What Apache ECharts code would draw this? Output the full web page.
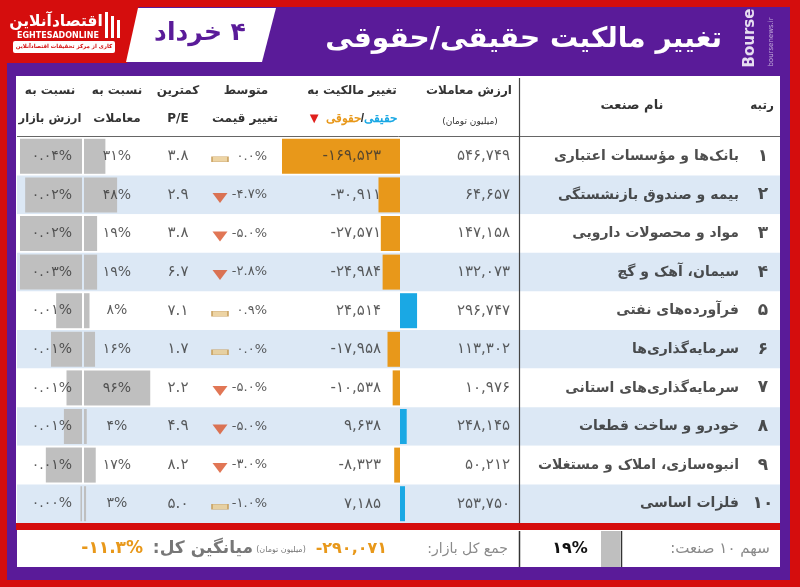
<!DOCTYPE html>
<html>
<head>
<meta charset="utf-8">
<script src="https://cdn.jsdelivr.net/npm/echarts@6/dist/echarts.min.js"></script>
<style>
html, body { margin: 0; padding: 0; background: #d50d0d; }
#chart { width: 800px; height: 587px; }
</style>
</head>
<body>
<div id="chart"></div>
<script>
// table data, one entry per industry (rank order)
var names = ['بانک‌ها و مؤسسات اعتباری', 'بیمه و صندوق بازنشستگی', 'مواد و محصولات دارویی', 'سیمان، آهک و گچ', 'فرآورده‌های نفتی',
    'سرمایه‌گذاری‌ها', 'سرمایه‌گذاری‌های استانی', 'خودرو و ساخت قطعات', 'انبوه‌سازی، املاک و مستغلات', 'فلزات اساسی'];
var tradeValue = [546749, 64657, 147158, 132073, 296747, 113302, 10976, 248145, 50212, 253750];
var ownershipChange = [-169523, -30911, -27571, -24984, 24514, -17958, -10538, 9638, -8323, 7185];
var avgPriceChange = [0.0, -4.7, -5.0, -2.8, 0.9, 0.0, -5.0, -5.0, -3.0, -1.0];
var minPE = [3.8, 2.9, 3.8, 6.7, 7.1, 1.7, 2.2, 4.9, 8.2, 5.0];
var tradeShare = [31, 48, 19, 19, 8, 16, 96, 4, 17, 3];
var marketShare = [0.042, 0.022, 0.024, 0.028, 0.010, 0.012, 0.006, 0.007, 0.014, 0.0006];

// footer values
var marketTotal = [-290071];
var marketAvg = [-11.3];
var top10Share = [19];

var RED = '#d50d0d', PURPLE = '#5a1b99', ORANGE = '#e8981a', BLUE = '#1aa8e4',
    GRAY = '#bfbfbf', ROWBLUE = '#dce8f5', TXT = '#333333';
var FONT = '"DejaVu Sans", sans-serif';

function fa(s) {
    return String(s).replace(/[0-9]/g, function (d) { return '۰۱۲۳۴۵۶۷۸۹'[d]; });
}
function num(v) { return fa(v.toLocaleString('en-US')); }
function rtl(s) { return '\u200F' + s + '\u200F'; }

var rows = names.map(function (n, i) { return String(i + 1); });
var TOP = 137, H = 386;

// one column of text in the table grid
function textCol(x, texts, pos, size, weight, color) {
    return {
        type: 'scatter', xAxisIndex: 0, yAxisIndex: 0, z: 10, silent: true,
        symbolSize: 0,
        data: texts.map(function (t, i) { return [x, i]; }),
        label: {
            show: true, position: pos, distance: 0,
            formatter: function (p) { return texts[p.dataIndex]; },
            color: color || TXT, fontFamily: FONT, fontSize: size, fontWeight: weight || 'normal'
        }
    };
}

function txt(x, y, s, font, color, align) {
    return {
        type: 'text', x: x, y: y, z: 20, silent: true,
        style: {
            text: s, font: font, fill: color, textAlign: align || 'center', align: align || 'center',
            textVerticalAlign: 'middle', verticalAlign: 'middle'
        }
    };
}
function f(size, bold) { return (bold ? 'bold ' : '') + size + 'px ' + FONT; }

var graphics = [
    // frame and backgrounds
    { type: 'rect', z: -10, shape: { x: 7, y: 7, width: 783, height: 573 }, style: { fill: PURPLE } },
    { type: 'polygon', z: -9, shape: { points: [[0, 0], [140, 0], [127, 63], [0, 63]] }, style: { fill: RED } },
    { type: 'polygon', z: -9, shape: { points: [[138, 8], [276, 8], [262, 62], [126, 62]] }, style: { fill: '#ffffff' } },
    { type: 'rect', z: -9, shape: { x: 16, y: 76, width: 764, height: 447 }, style: { fill: '#ffffff' } },
    { type: 'rect', z: -9, shape: { x: 16, y: 523, width: 764, height: 7 }, style: { fill: RED } },
    { type: 'rect', z: -9, shape: { x: 17, y: 530, width: 763, height: 37 }, style: { fill: '#ffffff' } },
    { type: 'rect', z: 20, shape: { x: 13, y: 41, width: 102, height: 12, r: 2 }, style: { fill: '#ffffff' } },
    { type: 'rect', z: 20, shape: { x: 105, y: 12, width: 3, height: 26 }, style: { fill: '#ffffff' } },
    { type: 'rect', z: 20, shape: { x: 111, y: 16, width: 3, height: 22 }, style: { fill: '#ffffff' } },
    { type: 'rect', z: 20, shape: { x: 117, y: 20, width: 3, height: 18 }, style: { fill: '#ffffff' } },
    // grid lines
    { type: 'line', z: 15, shape: { x1: 17, y1: 136.5, x2: 780, y2: 136.5 }, style: { stroke: '#666', lineWidth: 1 } },
    { type: 'line', z: 15, shape: { x1: 519.5, y1: 78, x2: 519.5, y2: 523 }, style: { stroke: '#444', lineWidth: 1.2 } },
    { type: 'line', z: 15, shape: { x1: 519.5, y1: 531, x2: 519.5, y2: 567 }, style: { stroke: '#333', lineWidth: 1.5 } },
    { type: 'line', z: 15, shape: { x1: 621.5, y1: 531, x2: 621.5, y2: 567 }, style: { stroke: '#333', lineWidth: 1.5 } },

    // logo and title
    txt(56, 22, rtl('اقتصادآنلاین'), f(15.5, true), '#ffffff'),
    txt(58, 36, 'EGHTESADONLINE', f(8, true), '#ffffff'),
    txt(64, 47, rtl('کاری از مرکز تحقیقات اقتصادآنلاین'), f(5.5, true), RED),
    txt(200, 33, rtl('۴ خرداد'), f(25, true), PURPLE),
    txt(722, 40, rtl('تغییر مالکیت حقیقی/حقوقی'), f(28, true), '#ffffff', 'right'),
    { type: 'text', x: 750, y: 38, rotation: Math.PI / 2, z: 20, silent: true,
      style: { text: 'Bourse', font: f(15, true), fill: 'rgba(255,255,255,0.85)', align: 'center', textAlign: 'center',
               verticalAlign: 'middle', textVerticalAlign: 'middle' } },
    { type: 'text', x: 771, y: 42, rotation: Math.PI / 2, z: 20, silent: true,
      style: { text: 'boursenews.ir', font: f(7), fill: 'rgba(255,255,255,0.6)', align: 'center', textAlign: 'center',
               verticalAlign: 'middle', textVerticalAlign: 'middle' } },

    // column headers
    txt(762, 106, rtl('رتبه'), f(12, true), TXT),
    txt(632, 106, rtl('نام صنعت'), f(13, true), TXT),
    txt(469, 91, rtl('ارزش معاملات'), f(12, true), TXT),
    txt(470, 122, rtl('(میلیون تومان)'), f(9), TXT),
    txt(352, 91, rtl('تغییر مالکیت به'), f(12, true), TXT),
    {
        type: 'text', x: 352, y: 119, z: 20, silent: true,
        style: {
            text: '{t|▼} {o|حقوقی}{s|/}{c|حقیقی}', align: 'center', textAlign: 'center',
            verticalAlign: 'middle', textVerticalAlign: 'middle', font: f(12, true),
            rich: {
                t: { fill: '#e0201c', color: '#e0201c', font: f(15), fontSize: 15 },
                o: { fill: ORANGE, color: ORANGE, font: f(12, true), fontSize: 12, fontWeight: 'bold' },
                s: { fill: TXT, color: TXT, font: f(12, true), fontSize: 12, fontWeight: 'bold' },
                c: { fill: BLUE, color: BLUE, font: f(12, true), fontSize: 12, fontWeight: 'bold' }
            }
        }
    },
    txt(246, 91, rtl('متوسط'), f(12, true), TXT),
    txt(245, 119, rtl('تغییر قیمت'), f(12, true), TXT),
    txt(178, 91, rtl('کمترین'), f(12, true), TXT),
    txt(178, 119, 'P/E', f(12, true), TXT),
    txt(117, 91, rtl('نسبت به'), f(12, true), TXT),
    txt(117, 119, rtl('معاملات'), f(12, true), TXT),
    txt(50, 91, rtl('نسبت به'), f(12, true), TXT),
    txt(50, 119, rtl('ارزش بازار'), f(11.5, true), TXT),

    // footer
    txt(720, 549, rtl('سهم ۱۰ صنعت:'), f(15), '#8a8a8a'),
    txt(570, 549, fa(top10Share[0]) + '%', f(16, true), '#111111'),
    txt(508, 549, rtl('جمع کل بازار:'), f(14), '#8a8a8a', 'right'),
    txt(387, 549, num(marketTotal[0]), f(16, true), ORANGE, 'right'),
    txt(281, 550, rtl('(میلیون تومان)'), f(8), '#777777'),
    txt(253, 549, rtl('میانگین کل:'), f(17, true), '#777777', 'right'),
    txt(143, 549, fa(marketAvg[0].toFixed(1)) + '%', f(17, true), ORANGE, 'right')
];

function hiddenY(gi) {
    return { gridIndex: gi, type: 'category', data: rows, inverse: true, show: false };
}

var chart = echarts.init(document.getElementById('chart'));
chart.setOption({
    backgroundColor: RED,
    animation: false,
    graphic: { elements: graphics },
    grid: [
        { left: 17, width: 763, top: TOP, height: H },   // table rows
        { left: 282, width: 238, top: TOP, height: H },  // ownership change
        { left: 84, width: 69, top: TOP, height: H },    // share of trades
        { left: 20, width: 62, top: TOP, height: H },    // share of market value
        { left: 520, width: 100, top: 531, height: 36 }  // footer share
    ],
    xAxis: [
        { gridIndex: 0, type: 'value', min: 17, max: 780, show: false },
        { gridIndex: 1, type: 'value', min: -169523, max: 172395, show: false },
        { gridIndex: 2, type: 'value', min: 0, max: 100, show: false },
        { gridIndex: 3, type: 'value', min: 0, max: 0.024, inverse: true, show: false },
        { gridIndex: 4, type: 'value', min: 0, max: 100, inverse: true, show: false }
    ],
    yAxis: [
        {
            gridIndex: 0, type: 'category', data: rows, inverse: true,
            axisLine: { show: false }, axisTick: { show: false }, axisLabel: { show: false },
            splitLine: { show: false },
            splitArea: { show: true, interval: 0, areaStyle: { color: ['#ffffff', ROWBLUE] } }
        },
        hiddenY(1), hiddenY(2), hiddenY(3),
        { gridIndex: 4, type: 'category', data: ['top10'], show: false }
    ],
    series: [
        {
            type: 'bar', xAxisIndex: 1, yAxisIndex: 1, barWidth: 35, clip: true, silent: true, z: 3,
            data: ownershipChange.map(function (v) {
                return { value: v, itemStyle: { color: v < 0 ? ORANGE : BLUE } };
            })
        },
        {
            type: 'bar', xAxisIndex: 2, yAxisIndex: 2, barWidth: 35, clip: true, silent: true, z: 3,
            itemStyle: { color: GRAY }, data: tradeShare
        },
        {
            type: 'bar', xAxisIndex: 3, yAxisIndex: 3, barWidth: 35, clip: true, silent: true, z: 3,
            itemStyle: { color: GRAY }, data: marketShare
        },
        {
            type: 'bar', xAxisIndex: 4, yAxisIndex: 4, barWidth: 36, clip: true, silent: true, z: 3,
            itemStyle: { color: GRAY }, data: top10Share
        },
        // price change icons
        {
            type: 'scatter', xAxisIndex: 0, yAxisIndex: 0, z: 10, silent: true, symbolOffset: [0, 3],
            data: avgPriceChange.map(function (v, i) {
                var down = v < -1.5;
                return {
                    value: [220, i],
                    symbol: down ? 'triangle' : 'rect',
                    symbolSize: down ? [15, 10] : [16, 5],
                    symbolRotate: down ? 180 : 0,
                    itemStyle: down ? { color: '#d9542b' } : { color: '#e9c98d', borderColor: '#c59a55', borderWidth: 1 }
                };
            })
        },
        textCol(763, rows.map(fa), 'inside', 17, 'bold', '#222222'),
        textCol(739, names, 'left', 14, 'bold', '#222222'),
        textCol(510, tradeValue.map(num), 'left', 15),
        textCol(381, ownershipChange.map(num), 'left', 15),
        textCol(267, avgPriceChange.map(function (v) { return fa(v.toFixed(1)) + '%'; }), 'left', 13),
        textCol(178, minPE.map(function (v) { return fa(v.toFixed(1)); }), 'inside', 15),
        textCol(117, tradeShare.map(function (v) { return fa(v) + '%'; }), 'inside', 14),
        textCol(72, marketShare.map(function (v) { return fa(v.toFixed(2)) + '%'; }), 'left', 14)
    ]
});
</script>
</body>
</html>
